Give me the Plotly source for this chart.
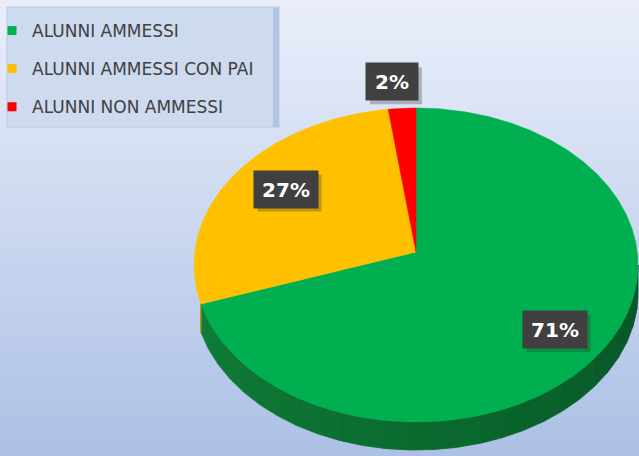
import numpy as np
import plotly.graph_objects as go

# ---------------- data ----------------
categories = ["ALUNNI AMMESSI", "ALUNNI AMMESSI CON PAI", "ALUNNI NON AMMESSI"]
values = [71, 27, 2]

# ---------------- style ----------------
W, H = 639, 456
top_colors = ["#00B050", "#FFC000", "#FF0000"]
CX, CY = 416, 265          # ellipse centre (pixels)
RX, RY = 222, 157          # ellipse radii
APEX_DY = -13              # perspective offset of the wedge apex
DEPTH = 28                 # thickness of the 3-D rim
RIM_FROM, RIM_TO = 90.0, 256.0   # part of the rim that is visible (deg clockwise from top)
label_fx = [0.79, 0.71, 1.73]
label_fy = [0.67, 0.86, 1.17]

fig = go.Figure()

total = float(sum(values))
angles = np.cumsum([0] + [v / total * 360.0 for v in values])


def ell(theta_deg, dy=0.0):
    t = np.radians(theta_deg)
    return CX + RX * np.sin(t), CY - RY * np.cos(t) + dy


def mix(c1, c2, f):
    return "rgb(%d,%d,%d)" % tuple(int(round(a + (b - a) * f)) for a, b in zip(c1, c2))


rim_ramp = {
    0: ((8, 84, 40), (10, 106, 46), (16, 128, 58)),
    1: ((170, 125, 0), (185, 138, 0), (200, 150, 0)),
    2: ((160, 0, 0), (180, 0, 0), (200, 0, 0)),
}

# ---- rim ----
for i, v in enumerate(values):
    a, b = angles[i], angles[i + 1]
    lo, hi = max(a, RIM_FROM), min(b, RIM_TO)
    if hi <= lo:
        continue
    nseg = max(1, int((hi - lo) / 6))
    edges = np.linspace(lo, hi, nseg + 1)
    for k in range(nseg):
        t = np.linspace(edges[k], edges[k + 1], 8)
        xs_top, ys_top = ell(t)
        xs_bot, ys_bot = ell(t[::-1], DEPTH)
        xs = np.concatenate([xs_top, xs_bot, xs_top[:1]])
        ys = np.concatenate([ys_top, ys_bot, ys_top[:1]])
        f = ((edges[k] + edges[k + 1]) / 2 - 90.0) / 180.0
        c0, c1, c2 = rim_ramp[i]
        col = mix(c0, c1, f * 2) if f < 0.5 else mix(c1, c2, (f - 0.5) * 2)
        fig.add_trace(go.Scatter(x=xs, y=ys, mode="lines", fill="toself",
                                 fillcolor=col, line=dict(color=col, width=0.8),
                                 hoverinfo="skip", showlegend=False))

# ---- top surface wedges ----
for i, v in enumerate(values):
    a, b = angles[i], angles[i + 1]
    t = np.linspace(a, b, max(3, int((b - a) * 2)))
    xs, ys = ell(t)
    xs = np.concatenate([[CX], xs, [CX]])
    ys = np.concatenate([[CY + APEX_DY], ys, [CY + APEX_DY]])
    fig.add_trace(go.Scatter(x=xs, y=ys, mode="lines", fill="toself",
                             fillcolor=top_colors[i],
                             line=dict(color=top_colors[i], width=0.5),
                             hoverinfo="skip", showlegend=False))

# ---- legend entries ----
for i, name in enumerate(categories):
    fig.add_trace(go.Scatter(x=[None], y=[None], mode="markers", name=name,
                             legendgroup=name,
                             marker=dict(symbol="square", size=9, color=top_colors[i])))

# ---- background gradient + legend box ----
shapes = []
n = 57
c_top, c_bot = (234, 238, 250), (172, 193, 229)
for k in range(n):
    shapes.append(dict(type="rect", xref="paper", yref="paper",
                       x0=0, x1=1, y0=1 - (k + 1) / n, y1=1 - k / n + 0.002,
                       fillcolor=mix(c_top, c_bot, k / (n - 1)),
                       line=dict(width=0), layer="below"))
shapes.append(dict(type="rect", xref="x", yref="y", x0=7, x1=279, y0=7, y1=127,
                   fillcolor="rgb(206,218,238)", line=dict(color="rgb(186,201,229)", width=1),
                   layer="below"))
shapes.append(dict(type="rect", xref="x", yref="y", x0=273, x1=279, y0=8, y1=127,
                   fillcolor="rgb(178,196,228)", line=dict(width=0), layer="below"))

# ---- data labels (with a soft shadow box) ----
annotations = []
for i, v in enumerate(values):
    a, b = angles[i], angles[i + 1]
    mid = np.radians((a + b) / 2)
    lx = CX + RX * label_fx[i] * np.sin(mid)
    ly = CY - RY * label_fy[i] * np.cos(mid)
    txt = "%d%%" % round(v / total * 100)
    bw = 64 if len(txt) > 2 else 52
    bh = 37
    shapes.append(dict(type="rect", xref="x", yref="y",
                       x0=lx - bw / 2 + 4, x1=lx + bw / 2 + 4,
                       y0=ly - bh / 2 + 4, y1=ly + bh / 2 + 4,
                       fillcolor="rgba(40,40,40,0.28)", line=dict(width=0), layer="above"))
    annotations.append(dict(x=lx, y=ly, xref="x", yref="y", showarrow=False,
                            text=txt, width=bw - 12, height=bh - 12, borderpad=6,
                            bgcolor="#404040",
                            font=dict(family="DejaVu Sans", size=20, color="white", weight="bold")))

fig.update_layout(
    width=W, height=H,
    margin=dict(l=0, r=0, t=0, b=0, autoexpand=False),
    paper_bgcolor="rgb(210,220,240)",
    plot_bgcolor="rgba(0,0,0,0)",
    xaxis=dict(range=[0, W], visible=False, fixedrange=True),
    yaxis=dict(range=[H, 0], visible=False, fixedrange=True),
    showlegend=True,
    legend=dict(x=-8 / W, y=1 - 13 / H, xanchor="left", yanchor="top",
                bgcolor="rgba(0,0,0,0)", borderwidth=0,
                font=dict(family="DejaVu Sans", size=17, color="#404040"),
                tracegroupgap=13, traceorder="grouped"),
    shapes=shapes,
    annotations=annotations,
)

fig.write_html("out.html", config={"displayModeBar": False},
               post_script="document.body.style.margin='0';document.body.style.overflow='hidden';")
